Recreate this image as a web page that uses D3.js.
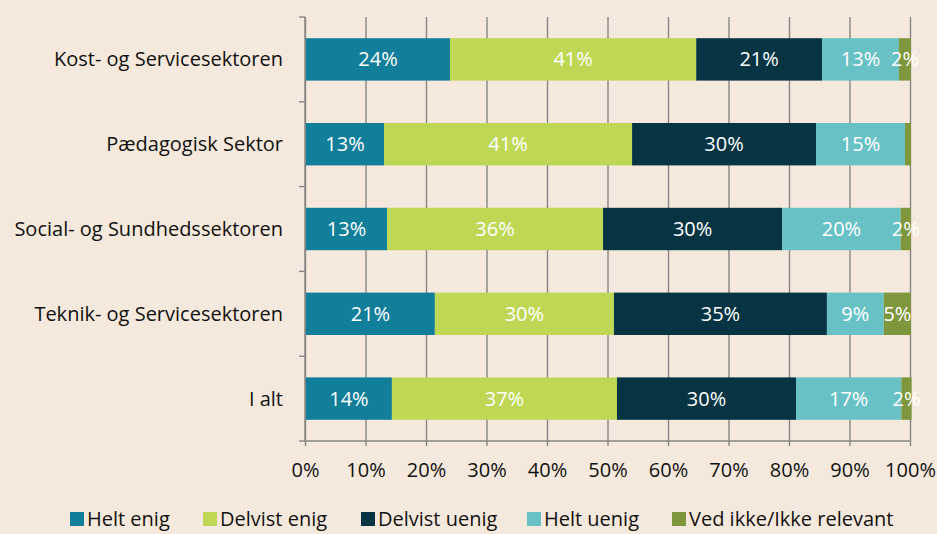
<!DOCTYPE html>
<html>
<head>
<meta charset="utf-8">
<script src="https://cdn.jsdelivr.net/npm/d3@7"></script>
<style>
  html, body { margin: 0; padding: 0; background: #f5e9dd; }
  svg { display: block; }
</style>
</head>
<body>
<div id="chart-area"></div>
<script>
// data (percent of respondents)
const categories = ['Kost- og Servicesektoren', 'Pædagogisk Sektor', 'Social- og Sundhedssektoren',
  'Teknik- og Servicesektoren', 'I alt'];
const series = ['Helt enig', 'Delvist enig', 'Delvist uenig', 'Helt uenig', 'Ved ikke/Ikke relevant'];
const heltEnig = [23.8, 12.9, 13.4, 21.3, 14.2];
const delvistEnig = [40.7, 41.0, 35.7, 29.6, 37.2];
const delvistUenig = [20.8, 30.4, 29.6, 35.2, 29.6];
const heltUenig = [12.7, 14.7, 19.6, 9.4, 17.4];
const vedIkke = [2.0, 1.0, 1.7, 4.5, 1.7];
const xTicks = [0, 10, 20, 30, 40, 50, 60, 70, 80, 90, 100];

const colors = ['#117e9a', '#bed856', '#063442', '#67c1c5', '#7e963c'];
const values = [heltEnig, delvistEnig, delvistUenig, heltUenig, vedIkke];

const W = 937, H = 534;
const margin = { top: 17, right: 27, bottom: 93, left: 305 };
const width = W - margin.left - margin.right;
const height = H - margin.top - margin.bottom;
const fontSize = '20px';

const rows = categories.map((c, i) => {
  const r = { cat: c };
  series.forEach((s, j) => { r[s] = values[j][i]; });
  return r;
});
const stacked = d3.stack().keys(series)(rows);

const x = d3.scaleLinear().domain([0, 100]).range([0, width]);
const y = d3.scaleBand().domain(categories).range([0, height])
  .paddingInner(0.5).paddingOuter(0.25);
const step = y.step();

const svg = d3.select('#chart-area').append('svg')
  .attr('width', W).attr('height', H)
  .style('font-family', '"Open Sans", sans-serif');

svg.append('rect').attr('width', W).attr('height', H).attr('fill', '#f5e9dd');

const chart = svg.append('g')
  .attr('transform', 'translate(' + margin.left + ',' + margin.top + ')');

// vertical gridlines + bottom axis
const xAxis = d3.axisBottom(x).tickValues(xTicks)
  .tickSize(-height - 5).tickFormat(d => d + '%');
chart.append('g')
  .attr('class', 'x-axis')
  .attr('transform', 'translate(0,' + (height + 5) + ')')
  .call(xAxis)
  .call(g => g.select('.domain').remove())
  .call(g => g.selectAll('line').attr('stroke', '#868686').attr('stroke-width', 1.4))
  .call(g => g.selectAll('text').attr('y', 17).attr('fill', '#111')
    .style('font-size', fontSize).style('font-family', '"Open Sans", sans-serif'));

chart.append('line')
  .attr('x1', 0).attr('x2', width).attr('y1', height).attr('y2', height)
  .attr('stroke', '#868686').attr('stroke-width', 1.4);

// y axis with ticks at band boundaries
const bounds = categories.map(c => y(c) - step * 0.25).concat([height]);
chart.append('line')
  .attr('x1', 0).attr('x2', 0).attr('y1', 0).attr('y2', height)
  .attr('stroke', '#868686').attr('stroke-width', 1.4);
chart.selectAll('.ytick').data(bounds).join('line')
  .attr('class', 'ytick')
  .attr('x1', -6).attr('x2', 0).attr('y1', d => d).attr('y2', d => d)
  .attr('stroke', '#868686').attr('stroke-width', 1.4);

chart.selectAll('.ylabel').data(categories).join('text')
  .attr('class', 'ylabel')
  .attr('x', -22)
  .attr('y', d => y(d) + y.bandwidth() / 2)
  .attr('dy', '0.35em')
  .attr('text-anchor', 'end')
  .attr('fill', '#111')
  .style('font-size', fontSize)
  .text(d => d);

// bars
const layer = chart.selectAll('.layer').data(stacked).join('g')
  .attr('class', 'layer')
  .attr('fill', (d, i) => colors[i]);

layer.selectAll('rect').data(d => d).join('rect')
  .attr('x', d => x(d[0]) + 1)
  .attr('y', d => y(d.data.cat))
  .attr('width', d => x(d[1]) - x(d[0]))
  .attr('height', y.bandwidth());

layer.selectAll('text').data(d => d.filter(p => p[1] - p[0] >= 1.5)).join('text')
  .attr('x', d => x((d[0] + d[1]) / 2) + 1)
  .attr('y', d => y(d.data.cat) + y.bandwidth() / 2)
  .attr('dy', '0.35em')
  .attr('text-anchor', 'middle')
  .attr('fill', '#ffffff')
  .style('font-size', fontSize)
  .text(d => Math.round(d[1] - d[0]) + '%');

// legend
const legendX = [70, 203, 361, 527, 672];
const legend = svg.append('g').attr('transform', 'translate(0,512)');
const item = legend.selectAll('g').data(series).join('g')
  .attr('transform', (d, i) => 'translate(' + legendX[i] + ',0)');
item.append('rect').attr('width', 14).attr('height', 14)
  .attr('fill', (d, i) => colors[i]);
item.append('text')
  .attr('x', 17).attr('y', 7).attr('dy', '0.35em')
  .attr('fill', '#111')
  .style('font-size', fontSize)
  .text(d => d);
</script>
</body>
</html>
